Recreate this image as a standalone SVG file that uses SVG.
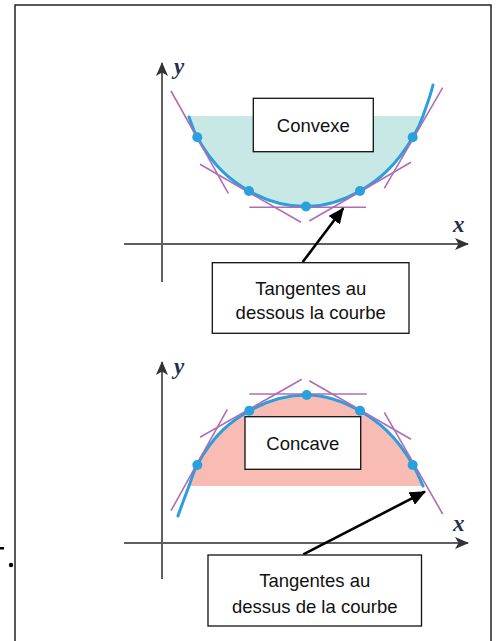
<svg xmlns="http://www.w3.org/2000/svg" width="499" height="641" viewBox="0 0 499 641">
<defs>
<style>
.axis{stroke:#5f5f5f;stroke-width:2;fill:none}
.curve{stroke:#2a9fdc;stroke-width:3;fill:none;stroke-linecap:round}
.tan{stroke:#b06cb4;stroke-width:1.6;fill:none}
.dot{fill:#2aa0dc}
.box{fill:#fff;stroke:#111;stroke-width:1.3}
.lbl{font-family:"Liberation Sans",Arial,sans-serif;font-size:18.5px;fill:#111;text-anchor:middle}
.var{font-family:"Liberation Serif","Times New Roman",serif;font-style:italic;font-weight:bold;font-size:23px;fill:#253048}
.ptr{stroke:#000;stroke-width:2.6;fill:none}
</style>
<marker id="axh" viewBox="0 0 14 12" refX="13" refY="6" markerWidth="14" markerHeight="12" markerUnits="userSpaceOnUse" orient="auto">
<path d="M0,0 L14,6 L0,12 L3.5,6 Z" fill="#333"/>
</marker>
<marker id="ah" viewBox="0 0 16 14" refX="15" refY="7" markerWidth="16" markerHeight="14" markerUnits="userSpaceOnUse" orient="auto">
<path d="M0,0 L16,7 L0,14 Z" fill="#000"/>
</marker>
</defs>
<rect x="15" y="5" width="476" height="660" fill="none" stroke="#222" stroke-width="1.5"/>
<rect x="0" y="547" width="4" height="2.5" fill="#000"/>
<circle cx="11" cy="565" r="2.2" fill="#000"/>

<g id="convex-graph">
<path d="M189,117 C191.7,124.5 194.3,132.2 197,137 C214.3,168 231.7,181.1 249,191 C268,201.9 287,206.5 306,206.5 C324,206.5 342,201.3 360,191 C377.7,180.8 395.3,167 413,137 C416.3,131.3 419.7,126 423,116 L189,116 Z" fill="#c7e8e5"/>
<line class="axis" x1="162" y1="282" x2="162" y2="63" marker-end="url(#axh)"/>
<line class="axis" x1="124" y1="244" x2="468" y2="244" marker-end="url(#axh)"/>
<text class="var" x="174" y="74">y</text>
<text class="var" x="453" y="232">x</text>
<path class="curve" d="M189,117 C191.7,124.5 194.3,132.2 197,137 C214.3,168 231.7,181.1 249,191 C268,201.9 287,206.5 306,206.5 C324,206.5 342,201.3 360,191 C377.7,180.8 395.3,167 413,137 C416.3,131.3 419.7,126 423,116 C426.3,106 429.7,98.3 433,85"/>
<line class="tan" x1="171" y1="91" x2="228.3" y2="193.3"/>
<line class="tan" x1="200" y1="164.3" x2="301" y2="222.3"/>
<line class="tan" x1="249.3" y1="207.3" x2="366" y2="207.3"/>
<line class="tan" x1="309.3" y1="221" x2="411" y2="162.3"/>
<line class="tan" x1="384.3" y1="188.3" x2="442.7" y2="87.7"/>
<circle class="dot" cx="197.3" cy="137.3" r="5"/>
<circle class="dot" cx="249" cy="191" r="5"/>
<circle class="dot" cx="306" cy="206.5" r="5"/>
<circle class="dot" cx="360" cy="191" r="5"/>
<circle class="dot" cx="412.7" cy="137.3" r="5"/>
</g>

<g id="concave-graph">
<path d="M189,486 C191.7,478.8 194.3,469.9 197,465 C214.3,433.5 231.7,420.9 249,411 C268.3,400 287.7,395 307,395 C324.7,395 342.3,400.9 360,411 C377.7,421.1 395.3,434.4 413,465 C416.3,470.8 419.7,478.3 423,486 Z" fill="#f8bcb4"/>
<line class="axis" x1="162" y1="579" x2="162" y2="362" marker-end="url(#axh)"/>
<line class="axis" x1="124" y1="543" x2="468" y2="543" marker-end="url(#axh)"/>
<text class="var" x="174" y="374">y</text>
<text class="var" x="453" y="531">x</text>
<path class="curve" d="M178,516 C181.7,505 185.3,496 189,486 C191.7,478.8 194.3,469.9 197,465 C214.3,433.5 231.7,420.9 249,411 C268.3,400 287.7,395 307,395 C324.7,395 342.3,400.9 360,411 C377.7,421.1 395.3,434.4 413,465 C416.3,470.8 419.7,478.3 423,486"/>
<line class="tan" x1="171" y1="510.7" x2="227.3" y2="409.3"/>
<line class="tan" x1="200" y1="437.3" x2="301.7" y2="379.3"/>
<line class="tan" x1="249.3" y1="394" x2="366.7" y2="394"/>
<line class="tan" x1="309.3" y1="380.7" x2="411" y2="439.3"/>
<line class="tan" x1="384.3" y1="412.3" x2="442.7" y2="514"/>
<circle class="dot" cx="197.3" cy="465" r="5"/>
<circle class="dot" cx="249.3" cy="410.7" r="5"/>
<circle class="dot" cx="306.7" cy="395" r="5"/>
<circle class="dot" cx="360" cy="410.7" r="5"/>
<circle class="dot" cx="412.7" cy="465" r="5"/>
</g>

<g id="connectors">
<line class="ptr" x1="302.7" y1="262" x2="343.3" y2="208.3" marker-end="url(#ah)"/>
<line class="ptr" x1="303.3" y1="554.3" x2="425" y2="491.7" marker-end="url(#ah)"/>
</g>

<g id="convexe">
<rect class="box" x="253.3" y="98.3" width="120" height="53.4"/>
<text class="lbl" x="313.3" y="131.5">Convexe</text>
</g>
<g id="tangentes-dessous">
<rect class="box" x="212.3" y="262.7" width="196.7" height="70.6"/>
<text class="lbl" x="310.7" y="295">Tangentes au</text>
<text class="lbl" x="310.7" y="318.5">dessous la courbe</text>
</g>
<g id="concave">
<rect class="box" x="245" y="416.7" width="115.7" height="52.6"/>
<text class="lbl" x="302.8" y="449.5">Concave</text>
</g>
<g id="tangentes-dessus">
<rect class="box" x="208" y="555" width="213.5" height="71"/>
<text class="lbl" x="314.7" y="587">Tangentes au</text>
<text class="lbl" x="314.7" y="613">dessus de la courbe</text>
</g>
</svg>
